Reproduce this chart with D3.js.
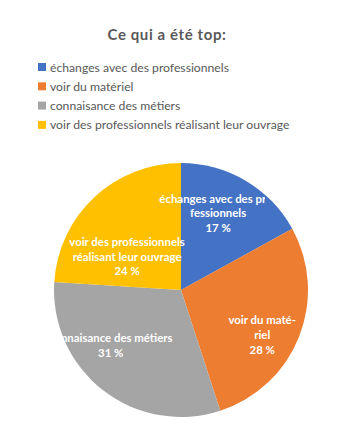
<!DOCTYPE html>
<html><head><meta charset="utf-8">
<script src="https://cdn.jsdelivr.net/npm/d3@7"></script>
<style>body{margin:0;background:#fff}svg{display:block}</style>
</head><body>
<script>
const title = "Ce qui a été top:";
const categories = ["échanges avec des professionnels","voir du matériel","connaisance des métiers","voir des professionnels réalisant leur ouvrage"];
const values = [17, 28, 31, 24];
const colors = ["#4472C4","#ED7D31","#A5A5A5","#FFC000"];
const sliceLabels = [["échanges avec des pro-","fessionnels"],["voir du maté-","riel"],["connaisance des métiers"],["voir des professionnels","réalisant leur ouvrage"]];
const pctLabels = values.map(v => v + " %");

const W = 340, H = 436;
const svg = d3.select("body").append("svg").attr("width", W).attr("height", H);
const font = "Lato, 'Open Sans', sans-serif";

svg.append("text").attr("x", 167).attr("y", 40).attr("text-anchor","middle")
  .attr("font-family", font).attr("font-weight","bold").attr("font-size", 15)
  .attr("letter-spacing", 0.6).attr("fill","#595959").text(title);

const leg = svg.append("g").selectAll("g").data(categories).join("g")
  .attr("transform", (d,i) => `translate(38,${67 + i*19.3})`);
leg.append("rect").attr("x",0).attr("y",-4).attr("width",8).attr("height",8).attr("fill",(d,i)=>colors[i]);
leg.append("text").attr("x",12).attr("y",4.5).attr("font-family",font).attr("font-size",12.2)
  .attr("fill","#595959").text(d=>d);

const cx = 181, cy = 290, R = 127;
const pie = d3.pie().sort(null).value(d=>d)(values);
const arc = d3.arc().innerRadius(0).outerRadius(R);
const g = svg.append("g").attr("transform", `translate(${cx},${cy})`);
g.selectAll("path").data(pie).join("path").attr("d", arc).attr("fill",(d,i)=>colors[i]);

const labelArc = d3.arc().innerRadius(R*0.62).outerRadius(R*0.62);
const labelOffsets = [[-3,-9],[8,16],[-22,-7],[0,24]];
const defs = svg.append("defs");
// clip boxes (relative to pie centre): blue label clipped on the right, gray on the left
const clipBoxes = [[-300,-300,384,600],[-300,-300,600,600],[-124,-300,500,600],[-300,-300,600,600]];
clipBoxes.forEach((b,i)=>{
  defs.append("clipPath").attr("id","lc"+i).append("rect")
    .attr("x",b[0]).attr("y",b[1]).attr("width",b[2]).attr("height",b[3]);
});
const lineH = 14.7;
const lbl = g.selectAll("g.lbl").data(pie).join("g").attr("class","lbl")
  .attr("clip-path",(d,i)=>`url(#lc${i})`);
lbl.each(function(d,i){
  const c = labelArc.centroid(d);
  const lines = sliceLabels[i].concat([pctLabels[i]]);
  const x = c[0] + labelOffsets[i][0];
  const y0 = c[1] + labelOffsets[i][1] - (lines.length-1)*lineH/2;
  const t = d3.select(this).append("text").attr("text-anchor","middle")
    .attr("font-family",font).attr("font-weight","bold").attr("font-size",11.4)
    .attr("fill","#fff");
  lines.forEach((s,k)=>{
    t.append("tspan").attr("x",x).attr("y",y0 + k*lineH + 4).text(s);
  });
});
</script>
</body></html>
